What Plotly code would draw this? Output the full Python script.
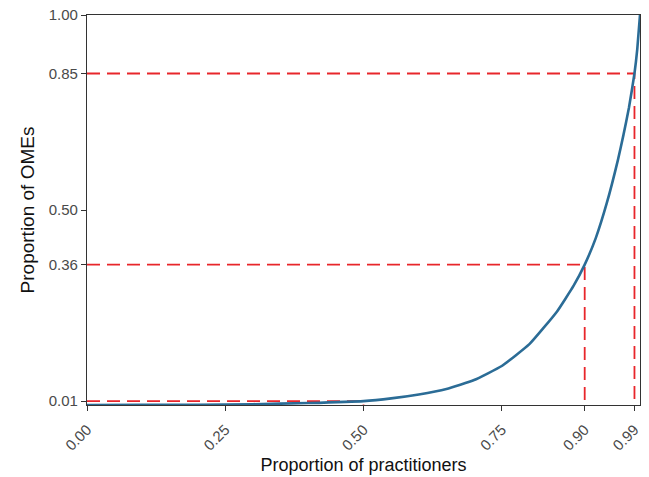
import plotly.graph_objects as go

# Curve (Lorenz-type)
prop_practitioners = [0.0, 0.10, 0.20, 0.30, 0.40, 0.50, 0.55, 0.60, 0.65, 0.70, 0.75,
                      0.80, 0.85, 0.88, 0.90, 0.92, 0.94, 0.96, 0.97, 0.98, 0.99,
                      0.995, 1.0]
prop_omes = [0.0, 0.0002, 0.0007, 0.002, 0.005, 0.010, 0.017, 0.027, 0.041, 0.064, 0.100,
             0.156, 0.240, 0.306, 0.360, 0.428, 0.518, 0.628, 0.692, 0.762, 0.850,
             0.912, 1.0]

# Reference (dashed) markers
mark_x = [0.50, 0.90, 0.99]
mark_y = [0.01, 0.36, 0.85]

x_ticks = [0.00, 0.25, 0.50, 0.75, 0.90, 0.99]
x_ticklabels = ["0.00", "0.25", "0.50", "0.75", "0.90", "0.99"]
y_ticks = [0.01, 0.36, 0.50, 0.85, 1.00]
y_ticklabels = ["0.01", "0.36", "0.50", "0.85", "1.00"]

RED = "#e8262b"
BLUE = "#2b6c96"
FONT = "Liberation Sans, Arial, sans-serif"

fig = go.Figure()

for mx, my in zip(mark_x, mark_y):
    fig.add_trace(go.Scatter(x=[0, mx, mx], y=[my, my, 0], mode="lines",
                             line=dict(color=RED, width=1.8, dash="13px,7px"),
                             hoverinfo="skip", showlegend=False))

fig.add_trace(go.Scatter(x=prop_practitioners, y=prop_omes, mode="lines",
                         line=dict(color=BLUE, width=2.6, shape="spline", smoothing=0.4),
                         showlegend=False))

axis_common = dict(showgrid=False, zeroline=False, showline=True, mirror=True,
                   linecolor="#333333", linewidth=1.2, ticks="outside", ticklen=5,
                   tickcolor="#333333", tickwidth=1.2,
                   tickfont=dict(family=FONT, size=15, color="#4a4a4a"))

fig.update_xaxes(range=[0, 1], tickvals=x_ticks, ticktext=x_ticklabels, tickangle=-45,
                 ticklabelstandoff=4,
                 title=dict(text="Proportion of practitioners", standoff=5,
                            font=dict(family=FONT, size=18, color="#111111")),
                 **axis_common)
fig.update_yaxes(range=[0, 1], tickvals=y_ticks, ticktext=y_ticklabels,
                 title=dict(text="Proportion of OMEs", standoff=9,
                            font=dict(family=FONT, size=19, color="#111111")),
                 **axis_common)

fig.update_layout(width=649, height=477, margin=dict(l=87, r=9, t=15, b=72, autoexpand=False),
                  plot_bgcolor="white", paper_bgcolor="white")

fig.write_html("out.html", config={"displayModeBar": False},
               post_script="document.body.style.margin='0px';")
